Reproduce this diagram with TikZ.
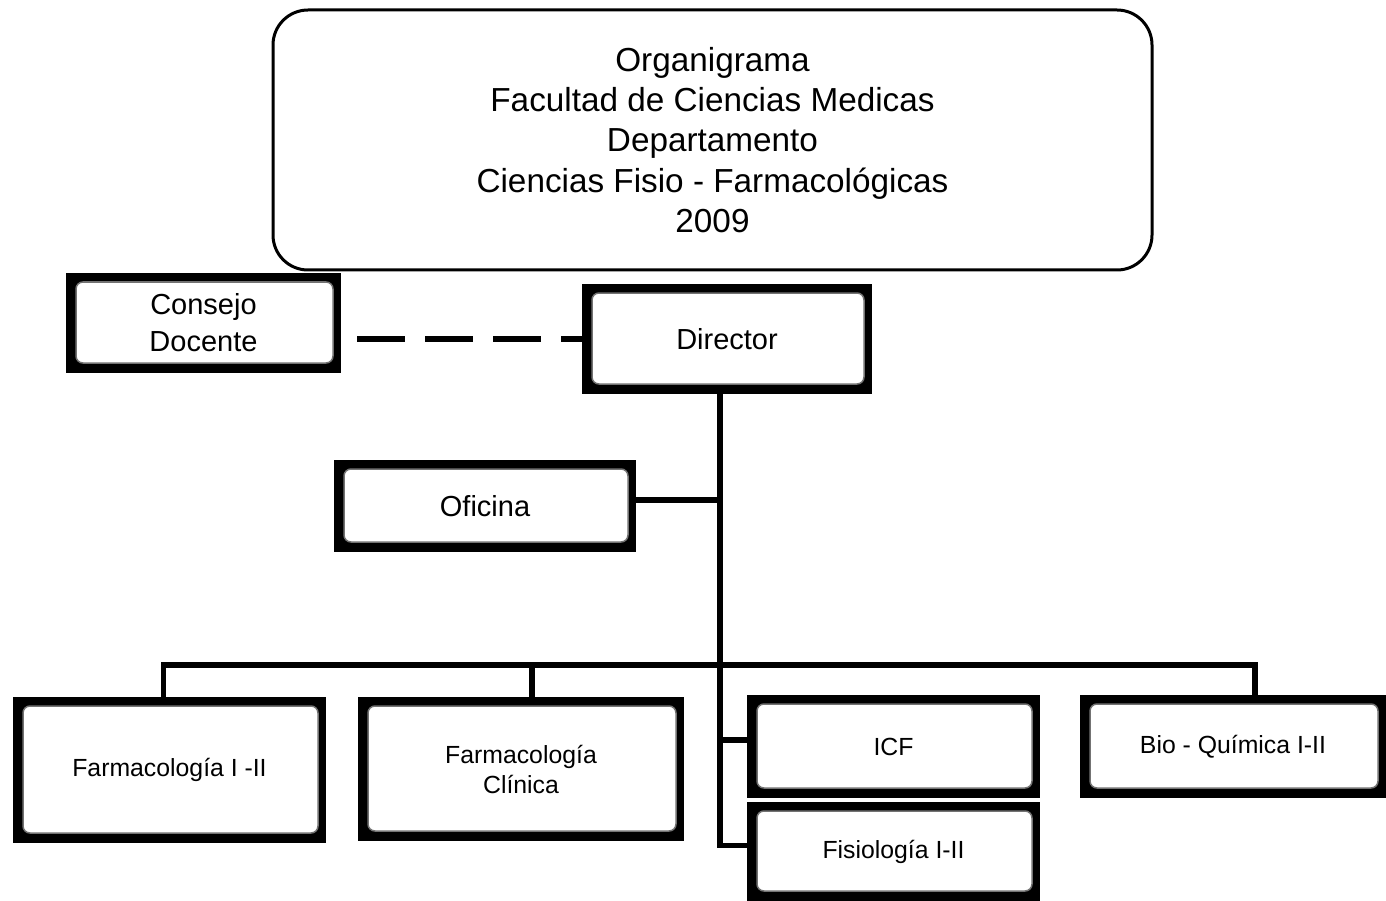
\documentclass[tikz,border=0pt]{standalone}
\usepackage{fontspec}
\setmainfont{Liberation Sans}
\usetikzlibrary{calc}
\tikzset{
  orgbox/.style={fill=black, inner sep=0pt, outer sep=0pt, align=center,
    path picture={
      \fill[white, draw=black!55, line width=1.5pt, rounded corners=7pt]
        ([xshift=10pt,yshift=-9pt]path picture bounding box.north west)
        rectangle ([xshift=-8pt,yshift=10pt]path picture bounding box.south east);
    }},
  conn/.style={line width=5.5pt, draw=black},
  bigtext/.style={font=\fontsize{29}{37}\selectfont},
  smalltext/.style={font=\fontsize{24.8}{30}\selectfont},
}
\begin{document}
\begin{tikzpicture}[x=1pt,y=-1pt]
\useasboundingbox[fill=white] (0,0) rectangle (1386,901);

% heading
\node[draw=black, line width=3pt, rounded corners=35pt, minimum width=879pt, minimum height=260pt,
      inner sep=0pt, align=center, font=\fontsize{33.3}{40.3}\selectfont]
  (title) at (712.5,140) {Organigrama\\Facultad de Ciencias Medicas\\Departamento\\Ciencias Fisio - Farmacológicas\\2009};

% units
\node[orgbox, bigtext, minimum width=275pt, minimum height=100pt] (cons) at (203.5,323) {Consejo\\Docente};
\node[orgbox, bigtext, minimum width=290pt, minimum height=110pt] (dir) at (727,339) {Director};
\node[orgbox, bigtext, minimum width=302pt, minimum height=92pt] (ofi) at (485,506) {Oficina};
\node[orgbox, smalltext, minimum width=313pt, minimum height=146pt] (f1) at (169.5,770) {Farmacología I -II};
\node[orgbox, smalltext, minimum width=326pt, minimum height=144pt] (fc) at (521,769) {Farmacología\\Clínica};
\node[orgbox, smalltext, minimum width=293pt, minimum height=103pt] (icf) at (893.5,746.5) {ICF};
\node[orgbox, smalltext, minimum width=293pt, minimum height=99pt] (fis) at (893.5,851.5) {Fisiología I-II};
\node[orgbox, smalltext, minimum width=306pt, minimum height=103pt] (bio) at (1233,746.5) {Bio - Química I-II};

% connectors
\coordinate (bj) at (720,665);
\draw[line width=6pt, dash pattern=on 48pt off 20pt]
  ($(cons.east |- dir.west)+(16,0)$) -- (dir.west);
\draw[conn] ([xshift=-7pt]dir.south) |- ([yshift=6pt]fis.west);
\draw[conn] ([yshift=6pt]ofi.east) -- ([yshift=6pt]ofi.east -| bj);
\draw[conn] ([yshift=6.5pt]icf.west) -- ([yshift=6.5pt]icf.west -| bj);
\draw[conn] ([xshift=-6pt]f1.north) |- (bj);
\draw[conn] ([xshift=11pt]fc.north) -- ([xshift=11pt]fc.north |- bj);
\draw[conn] ([xshift=22pt]bio.north) |- (bj);
\end{tikzpicture}
\end{document}
